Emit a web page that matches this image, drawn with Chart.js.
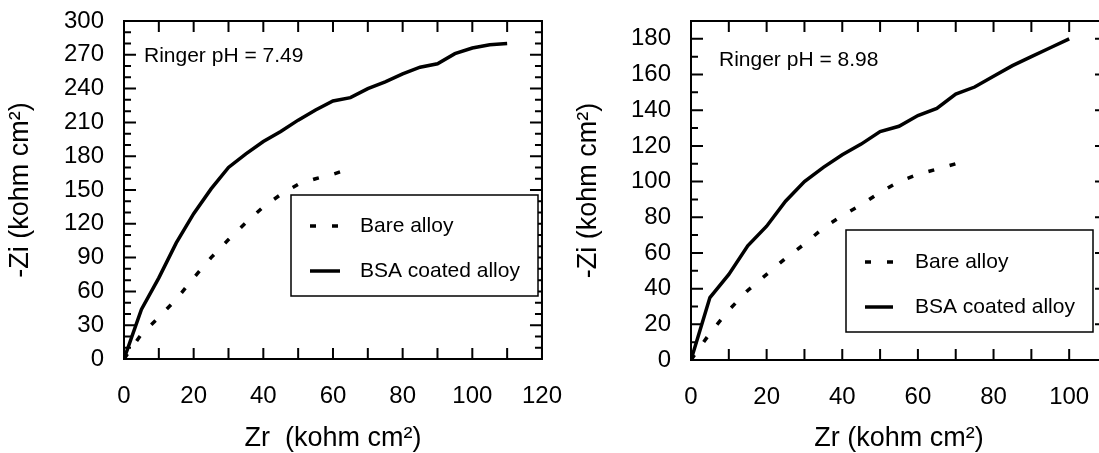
<!DOCTYPE html>
<html>
<head>
<meta charset="utf-8">
<script src="https://cdn.jsdelivr.net/npm/chart.js@4.4.0/dist/chart.umd.min.js"></script>
<style>
  html, body { margin: 0; padding: 0; background: #fff; overflow: hidden; width: 1099px; height: 453px; }
  #left { position: absolute; left: 0; top: 0; }
  #right { position: absolute; left: 560px; top: 0; }
</style>
</head>
<body>
<canvas id="left" width="562" height="453"></canvas>
<canvas id="right" width="560" height="453"></canvas>
<script>
// pH 7.49
const bareLeftZr = [0, 5, 10, 15, 20, 25, 30, 35, 40, 45, 50, 55, 60, 63];
const bareLeftZi = [0, 22, 37, 53, 72, 90, 106, 121, 135, 146, 155, 160, 164, 167];
const bsaLeftZr = [0, 5, 10, 15, 20, 25, 30, 35, 40, 45, 50, 55, 60, 65, 70, 75, 80, 85, 90, 95, 100, 105, 110];
const bsaLeftZi = [0, 44, 72, 103, 129, 151, 170, 182, 193, 202, 212, 221, 229, 232, 240, 246, 253, 259, 262, 271, 276, 279, 280];

// pH 8.98
const bareRightZr = [0, 5, 10, 15, 20, 25, 30, 35, 40, 45, 50, 55, 60, 65, 70];
const bareRightZi = [0, 15, 28, 39, 48, 57, 65, 74, 81, 87, 94, 100, 104, 107, 110];
const bsaRightZr = [0, 5, 10, 15, 20, 25, 30, 35, 40, 45, 50, 55, 60, 65, 70, 75, 80, 85, 90, 95, 100];
const bsaRightZi = [0, 35, 48, 64, 75, 89, 100, 108, 115, 121, 128, 131, 137, 141, 149, 153, 159, 165, 170, 175, 180];

const xLabelsLeft = [0, 20, 40, 60, 80, 100, 120];
const yLabelsLeft = [0, 30, 60, 90, 120, 150, 180, 210, 240, 270, 300];
const xLabelsRight = [0, 20, 40, 60, 80, 100];
const yLabelsRight = [0, 20, 40, 60, 80, 100, 120, 140, 160, 180];

const seriesNames = ['Bare alloy', 'BSA coated alloy'];

const FONT = '"Liberation Sans", Arial, Helvetica, sans-serif';

function pts(xs, ys) {
  return xs.map((x, i) => ({ x: x, y: ys[i] }));
}

// box, inward ticks, note and legend
const framePlugin = {
  id: 'frame',
  afterDatasetsDraw(chart, args, o) {
    const { ctx, chartArea: a } = chart;
    const xs = chart.scales.x, ys = chart.scales.y;
    ctx.save();
    ctx.strokeStyle = '#000';
    ctx.lineWidth = 2;
    ctx.beginPath();
    xs.ticks.forEach(t => {
      const p = xs.getPixelForValue(t.value);
      ctx.moveTo(p, a.bottom); ctx.lineTo(p, a.bottom - 11);
      ctx.moveTo(p, a.top); ctx.lineTo(p, a.top + 11);
    });
    ys.ticks.forEach(t => {
      const p = ys.getPixelForValue(t.value);
      const len = t.label !== '' ? 12 : 7;
      ctx.moveTo(a.left, p); ctx.lineTo(a.left + len, p);
      ctx.moveTo(a.right, p); ctx.lineTo(a.right - len, p);
    });
    ctx.stroke();
    ctx.strokeRect(a.left, a.top, a.right - a.left, a.bottom - a.top);

    ctx.fillStyle = '#000';
    ctx.font = '21px ' + FONT;
    ctx.textBaseline = 'middle';
    ctx.textAlign = 'left';
    ctx.fillText(o.note, o.noteX, o.noteY);

    const L = o.legend;
    ctx.fillStyle = '#fff';
    ctx.fillRect(L.x, L.y, L.w, L.h);
    ctx.lineWidth = 1.5;
    ctx.strokeRect(L.x, L.y, L.w, L.h);
    chart.data.datasets.forEach((ds, i) => {
      const y = L.rows[i];
      ctx.save();
      ctx.lineWidth = ds.borderWidth;
      ctx.setLineDash(ds.borderDash || []);
      ctx.beginPath();
      ctx.moveTo(L.sx0, y);
      ctx.lineTo(L.sx1, y);
      ctx.stroke();
      ctx.restore();
      ctx.fillStyle = '#000';
      ctx.fillText(ds.label, L.tx, y);
    });
    ctx.restore();
  }
};

function makeChart(id, cfg) {
  const ctx = document.getElementById(id).getContext('2d');
  return new Chart(ctx, {
    type: 'line',
    data: {
      datasets: [{
        label: seriesNames[0],
        data: pts(cfg.bareZr, cfg.bareZi),
        borderColor: '#000',
        borderWidth: 3.5,
        borderDash: [6, 16],
        pointRadius: 0,
        tension: 0,
        fill: false
      }, {
        label: seriesNames[1],
        data: pts(cfg.bsaZr, cfg.bsaZi),
        borderColor: '#000',
        borderWidth: 3.5,
        pointRadius: 0,
        tension: 0,
        fill: false
      }]
    },
    options: {
      responsive: false,
      animation: false,
      layout: { padding: cfg.padding, autoPadding: false },
      plugins: {
        legend: { display: false },
        tooltip: { enabled: false },
        frame: cfg.frame
      },
      scales: {
        x: {
          type: 'linear',
          min: 0,
          max: cfg.xMax,
          // tick marks are drawn by the frame plugin; tickLength only sets label offset
          grid: { display: false, drawTicks: true, tickLength: 23 },
          border: { display: false },
          afterFit: s => { s.height = cfg.xAxisHeight; },
          ticks: {
            stepSize: 10,
            autoSkip: false,
            maxRotation: 0,
            minRotation: 0,
            padding: 0,
            color: '#000',
            font: { family: FONT, size: 24 },
            callback: v => cfg.xLabels.includes(v) ? String(v) : ''
          },
          title: {
            display: true,
            text: cfg.xTitle,
            color: '#000',
            font: { family: FONT, size: 27, lineHeight: 1.1 },
            padding: { top: 0, bottom: 0 }
          }
        },
        y: {
          type: 'linear',
          min: 0,
          max: cfg.yMax,
          grid: { display: false, drawTicks: true, tickLength: 20 },
          border: { display: false },
          afterFit: s => { s.width = cfg.yAxisWidth; },
          ticks: {
            stepSize: 10,
            autoSkip: false,
            padding: 0,
            color: '#000',
            font: { family: FONT, size: 24 },
            callback: v => cfg.yLabels.includes(v) ? String(v) : ''
          },
          title: {
            display: true,
            text: '-Zi (kohm cm\u00B2)',
            color: '#000',
            font: { family: FONT, size: 27, lineHeight: 1.1 },
            padding: { top: cfg.yTitlePad, bottom: 0 }
          }
        }
      }
    },
    plugins: [framePlugin]
  });
}

makeChart('left', {
  bareZr: bareLeftZr, bareZi: bareLeftZi,
  bsaZr: bsaLeftZr, bsaZi: bsaLeftZi,
  xMax: 120, yMax: 300,
  xLabels: xLabelsLeft, yLabels: yLabelsLeft,
  xTitle: 'Zr  (kohm cm\u00B2)',
  padding: { left: 0, right: 20, top: 21, bottom: 0 },
  xAxisHeight: 94, yAxisWidth: 124, yTitlePad: 6,
  frame: {
    note: 'Ringer pH = 7.49', noteX: 144, noteY: 56,
    legend: { x: 291, y: 195, w: 247, h: 101, rows: [226, 271], sx0: 310, sx1: 340, tx: 360 }
  }
});

makeChart('right', {
  bareZr: bareRightZr, bareZi: bareRightZi,
  bsaZr: bsaRightZr, bsaZi: bsaRightZi,
  xMax: 110, yMax: 190,
  xLabels: xLabelsRight, yLabels: yLabelsRight,
  xTitle: 'Zr (kohm cm\u00B2)',
  padding: { left: 0, right: 13, top: 21, bottom: 0 },
  xAxisHeight: 93, yAxisWidth: 131, yTitlePad: 14,
  frame: {
    note: 'Ringer pH = 8.98', noteX: 159, noteY: 60,
    legend: { x: 286, y: 230, w: 247, h: 102, rows: [262, 307], sx0: 305, sx1: 333, tx: 355 }
  }
});
</script>
</body>
</html>
